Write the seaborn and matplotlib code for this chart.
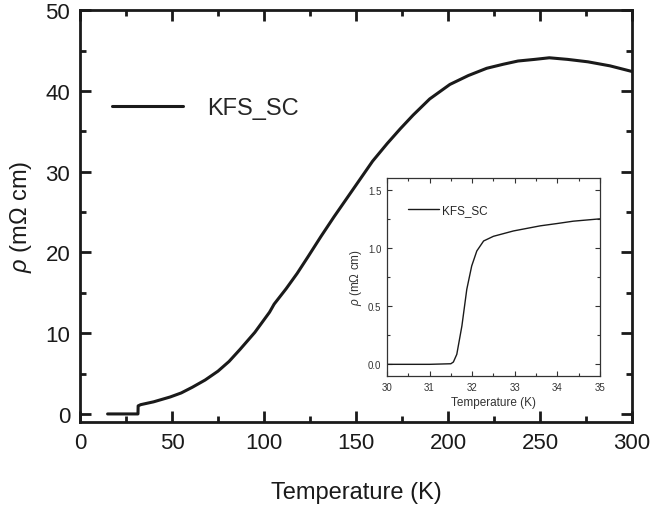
import numpy as np
import seaborn as sns
import matplotlib.pyplot as plt
from matplotlib.ticker import MultipleLocator

sns.set_theme(style='ticks')
plt.rcParams['font.family'] = ['Liberation Sans', 'DejaVu Sans']
plt.rcParams['mathtext.fontset'] = 'custom'
plt.rcParams['mathtext.it'] = 'Liberation Sans:italic'
plt.rcParams['mathtext.rm'] = 'Liberation Sans'

# main curve: resistivity vs temperature
temp_main = [15, 31.5, 31.6, 33, 40, 49, 55, 61, 68, 75, 81, 87, 95, 103, 104.5, 105.5,
             112, 118, 124, 131, 138, 145, 152, 159, 167, 174, 181, 190, 201,
             211, 221, 230, 238, 247, 255, 265, 276, 288, 300]
rho_main = [0, 0, 1.0, 1.15, 1.5, 2.1, 2.6, 3.3, 4.2, 5.3, 6.5, 8.0, 10.1, 12.6, 13.2, 13.6,
            15.5, 17.4, 19.5, 22.0, 24.4, 26.7, 29.0, 31.3, 33.5, 35.3, 37.0, 39.0, 40.8,
            41.9, 42.8, 43.3, 43.7, 43.9, 44.1, 43.9, 43.6, 43.1, 42.4]

# inset: zoom on the transition
temp_inset = [30, 31.0, 31.5, 31.56, 31.64, 31.76, 31.875, 31.99, 32.11, 32.27,
              32.5, 32.97, 33.6, 34.0, 34.375, 35]
rho_inset = [0, 0, 0.005, 0.02, 0.086, 0.33, 0.645, 0.845, 0.974, 1.06,
             1.10, 1.146, 1.19, 1.21, 1.23, 1.25]

series_name = 'KFS_SC'
rho_label = r'$\rho$ (mΩ cm)'

fig = plt.figure(figsize=(6.53, 5.06), dpi=100)
ax = fig.add_axes([0.1225, 0.164, 0.8455, 0.814])

sns.lineplot(x=temp_main, y=rho_main, ax=ax, color='#1a1a1a', lw=2.2,
             label=series_name, sort=False)
ax.set_xlim(0, 300)
ax.set_ylim(-1, 50)
ax.xaxis.set_major_locator(MultipleLocator(50))
ax.xaxis.set_minor_locator(MultipleLocator(25))
ax.yaxis.set_major_locator(MultipleLocator(10))
ax.yaxis.set_minor_locator(MultipleLocator(5))
ax.tick_params(which='both', direction='in', top=True, right=True,
               width=2, labelsize=16, color='#1a1a1a', labelcolor='#1a1a1a')
ax.tick_params(which='major', length=8, pad=7)
ax.tick_params(which='minor', length=4)
for s in ax.spines.values():
    s.set_linewidth(2)
    s.set_color('#1a1a1a')
ax.set_xlabel('Temperature (K)', fontsize=17, labelpad=20, color='#1a1a1a')
ax.set_ylabel(rho_label, fontsize=17, labelpad=8, color='#1a1a1a')
ax.legend(loc='upper left', bbox_to_anchor=(0.02, 0.84), frameon=False,
          fontsize=17, handlelength=3.0, handletextpad=1.0)

# inset
axi = fig.add_axes([0.5926, 0.255, 0.326, 0.391])
sns.lineplot(x=temp_inset, y=rho_inset, ax=axi, color='#1a1a1a', lw=1.0,
             label=series_name, sort=False)
axi.set_xlim(30, 35)
axi.set_ylim(-0.1, 1.6)
axi.xaxis.set_major_locator(MultipleLocator(1))
axi.xaxis.set_minor_locator(MultipleLocator(0.5))
axi.yaxis.set_major_locator(MultipleLocator(0.5))
axi.yaxis.set_minor_locator(MultipleLocator(0.25))
axi.tick_params(which='both', direction='in', top=True, right=True,
                width=0.8, labelsize=7, color='#333333', labelcolor='#333333')
axi.tick_params(which='major', length=3.5, pad=4)
axi.tick_params(which='minor', length=2)
for s in axi.spines.values():
    s.set_linewidth(0.9)
    s.set_color('#333333')
axi.yaxis.set_major_formatter(plt.FormatStrFormatter('%.1f'))
axi.set_xlabel('Temperature (K)', fontsize=8.5, labelpad=3, color='#333333')
axi.set_ylabel(rho_label, fontsize=8.5, labelpad=3, color='#333333')
axi.legend(loc='upper left', bbox_to_anchor=(0.05, 0.92), frameon=False,
           fontsize=8.5, handlelength=2.6, handletextpad=0.3)

fig.savefig('out.png', dpi=100)
